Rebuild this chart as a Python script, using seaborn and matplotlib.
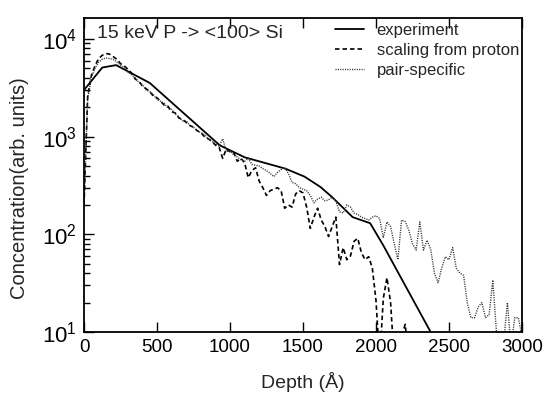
import numpy as np
import pandas as pd
import matplotlib
matplotlib.use("Agg")
import matplotlib.pyplot as plt
import seaborn as sns

# ---------------- data ----------------
exp_depth = [0, 125, 220, 450, 930, 1100, 1380, 1510, 1620, 1700, 1840, 1960, 2050, 2400]
exp_conc = [3000, 5100, 5400, 3550, 815, 615, 470, 390, 305, 240, 150, 130, 77, 8.5]

sim_step_depth_scaling = list(range(0, 2250, 25))
scaling_conc = [
    200, 2600, 4200, 5300, 6300, 6800, 7100, 7000, 6600, 6200,
    5600, 5300, 4900, 4500, 3900, 3700, 3300, 3100, 2900, 2600,
    2500, 2300, 2100, 2050, 1800, 1750, 1550, 1500, 1400, 1300,
    1250, 1150, 1100, 1000, 950, 900, 820, 780, 600, 750,
    700, 690, 560, 600, 540, 380, 450, 480, 350, 300,
    250, 280, 290, 300, 280, 185, 200, 190, 260, 280,
    265, 190, 115, 150, 185, 140, 120, 95, 120, 150,
    49, 73, 55, 60, 85, 91, 65, 55, 59, 45,
    21, 5, 22, 36, 20, 5, 4, 9, 12, 5,
]

sim_step_depth_pair = list(range(0, 3025, 25))
pair_conc = [
    200, 2400, 4000, 5000, 5800, 6200, 6400, 6300, 6200, 5800,
    5400, 5100, 4600, 4300, 4000, 3600, 3400, 3000, 2900, 2700,
    2400, 2300, 2200, 1950, 1900, 1700, 1600, 1450, 1450, 1300,
    1250, 1150, 1100, 1050, 950, 900, 850, 800, 950, 700,
    720, 650, 620, 580, 560, 600, 520, 510, 500, 470,
    450, 420, 390, 430, 460, 480, 420, 340, 330, 300,
    290, 280, 250, 210, 230, 240, 220, 225, 240, 220,
    170, 165, 200, 190, 165, 160, 150, 145, 140, 150,
    155, 145, 92, 134, 120, 80, 55, 140, 135, 110,
    80, 69, 134, 69, 87, 70, 40, 32, 45, 59,
    55, 73, 45, 40, 38, 20, 14, 14, 18, 20,
    14, 15, 34, 10, 7, 8, 20, 7, 14, 14,
    9,
]

title_text = "15 keV P -> <100> Si"
labels = ["experiment", "scaling from proton", "pair-specific"]
xticks = [0, 500, 1000, 1500, 2000, 2500, 3000]

# ---------------- style ----------------
sns.set_theme(style="ticks")
plt.rcParams["font.family"] = ["Liberation Sans", "DejaVu Sans"]
plt.rcParams["mathtext.fontset"] = "custom"
plt.rcParams["mathtext.rm"] = "Liberation Sans"
plt.rcParams["mathtext.it"] = "Liberation Sans"
plt.rcParams["mathtext.default"] = "regular"

fig = plt.figure(figsize=(5.52, 3.97), dpi=100)
ax = fig.add_axes([84 / 552, 1 - 332 / 397, (522 - 84) / 552, (332 - 18) / 397])

df_exp = pd.DataFrame({"depth": exp_depth, "conc": exp_conc})
df_sc = pd.DataFrame({"depth": sim_step_depth_scaling, "conc": scaling_conc})
df_pr = pd.DataFrame({"depth": sim_step_depth_pair, "conc": pair_conc})

sns.lineplot(data=df_exp, x="depth", y="conc", ax=ax, color="black", lw=1.3,
             label=labels[0], estimator=None)
sns.lineplot(data=df_sc, x="depth", y="conc", ax=ax, color="black", lw=1.2,
             linestyle=(0, (2.7, 1.8)), label=labels[1], estimator=None)
sns.lineplot(data=df_pr, x="depth", y="conc", ax=ax, color="#333333", lw=1.0,
             linestyle=(0, (0.8, 0.9)), label=labels[2], estimator=None)

ax.set_yscale("log")
ax.set_xlim(0, 3000)
ax.set_ylim(10, 16400)
ax.set_xticks(xticks)
ax.set_xticklabels([str(t) for t in xticks])
ax.set_xlabel("Depth (Å)", fontsize=14)
ax.set_ylabel("Concentration(arb. units)", fontsize=14.5)
ax.xaxis.set_label_coords(0.5, -(372 - 332) / 314)
ax.yaxis.set_label_coords(-(84 - 29) / 438, (332 - 188) / 314)

for s in ax.spines.values():
    s.set_visible(True)
    s.set_linewidth(1.3)
    s.set_color("black")

ax.tick_params(axis="both", which="both", direction="in",
               colors="black", top=True, right=False)
ax.tick_params(axis="x", labelsize=13.5)
ax.tick_params(axis="y", labelsize=16)
ax.tick_params(axis="both", which="major", length=7, width=1.0, pad=5)
ax.tick_params(axis="y", which="minor", length=4, width=1.0)
ax.tick_params(axis="x", which="minor", bottom=False, top=False)

ax.text((97 - 84) / 438, (332 - 38) / 314, title_text, transform=ax.transAxes,
        fontsize=14, va="baseline", ha="left")

leg = ax.legend(loc="upper left", bbox_to_anchor=((335 - 84) / 438, 0.985),
                frameon=False, fontsize=12, handlelength=1.75, handletextpad=0.75,
                labelspacing=0.3, borderpad=0, borderaxespad=0)

fig.savefig("out.png", dpi=100)
